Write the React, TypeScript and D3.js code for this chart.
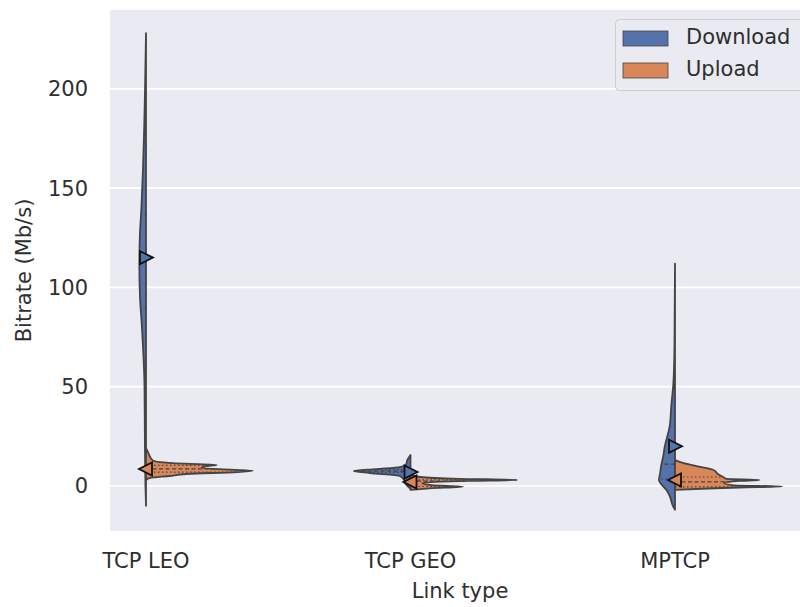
import React, { useEffect, useRef } from 'react';
import * as d3 from 'd3';

// link types on the x axis, hue split into two halves
const categories = ['TCP LEO', 'TCP GEO', 'MPTCP'];
const seriesNames = ['Download', 'Upload'];
const yTicks = [0, 50, 100, 150, 200];

// density profiles: [bitrate, relative density (widest = 100)]
const leoDownload = [[-10, 0], [0, 0.5], [20, 1], [50, 1.4], [80, 3.8], [95, 5.6], [110, 6.2], [125, 5.8], [140, 4.3], [160, 2.8], [180, 1.7], [200, 0.9], [228, 0]];
const leoUpload = [[3, 0], [4, 4], [5, 22], [6, 38], [7, 85], [7.6, 100], [8.2, 80], [9, 52], [10, 56], [10.6, 66], [11.2, 36], [12, 13], [13, 6], [15.6, 3], [18, 1], [19, 0]];
const geoDownload = [[-1.5, 0], [0, 3], [1.5, 5], [3, 6], [5, 10], [6.5, 38], [7.5, 53], [8.5, 32], [9.5, 10], [11, 4], [13, 3], [15.6, 0]];
const geoUpload = [[-2, 0], [-1.2, 18], [-0.4, 49], [0.4, 20], [1.5, 11], [2.5, 55], [3, 100], [3.6, 45], [4.5, 9], [5.5, 0]];
const mptcpDownload = [[-12, 0], [-10, 2], [-5, 5], [-2, 8], [1, 13], [3, 15], [6, 14], [10, 13], [15, 11], [20, 9.5], [30, 5], [40, 3.5], [52, 1.5], [70, 0.5], [112, 0]];
const mptcpUpload = [[-2, 0], [-0.8, 60], [-0.3, 100], [0.3, 55], [1.5, 46], [2.5, 60], [3, 79], [3.6, 48], [4.5, 45], [6, 40], [8, 36], [10, 20], [11.5, 8], [13, 0]];

// quartiles [q1, median, q3] and means per half
const quartiles = [
  [[90, 115, 137], [7.0, 8.6, 10.4]],
  [[6.8, 7.5, 8.2], [-0.3, 2.4, 3.0]],
  [[3.5, 11, 30], [-0.5, 2.0, 4.5]],
];
const means = [
  [115, 8.5],
  [7, 2],
  [20, 3],
];
const profiles = [
  [leoDownload, leoUpload],
  [geoDownload, geoUpload],
  [mptcpDownload, mptcpUpload],
];

const colors = ['#5572aa', '#d98758'];
const edge = '#444444';
const font = '"DejaVu Sans", sans-serif';
const textColor = '#2e2e2e';

export default function App() {
  const svgRef = useRef<SVGSVGElement>(null);

  useEffect(() => {
    document.body.style.margin = '0';
    const width = 800;
    const height = 607;
    const plot = { left: 110, top: 10, right: 810, bottom: 531 };

    const svg = d3.select(svgRef.current).attr('width', width).attr('height', height);
    svg.selectAll('*').remove();

    const x = d3.scalePoint<string>().domain(categories).range([146, 675]);
    const y = d3.scaleLinear().domain([-22.7, 239.7]).range([plot.bottom, plot.top]);
    const w = d3.scaleLinear().domain([0, 100]).range([0, 107]);

    svg.append('rect')
      .attr('x', plot.left).attr('y', plot.top)
      .attr('width', plot.right - plot.left).attr('height', plot.bottom - plot.top)
      .attr('fill', '#eaeaf2');

    svg.append('g').selectAll('line').data(yTicks).enter().append('line')
      .attr('x1', plot.left).attr('x2', plot.right)
      .attr('y1', d => y(d)).attr('y2', d => y(d))
      .attr('stroke', '#ffffff').attr('stroke-width', 1.6);

    svg.append('g').selectAll('text').data(yTicks).enter().append('text')
      .attr('x', 88).attr('y', d => y(d)).attr('dy', '0.36em')
      .attr('text-anchor', 'end')
      .style('font-family', font).style('font-size', '21px').attr('fill', textColor)
      .text(d => d);

    svg.append('g').selectAll('text').data(categories).enter().append('text')
      .attr('x', d => x(d)!).attr('y', 568)
      .attr('text-anchor', 'middle')
      .style('font-family', font).style('font-size', '21px').attr('fill', textColor)
      .text(d => d);

    svg.append('text')
      .attr('x', 460).attr('y', 598).attr('text-anchor', 'middle')
      .style('font-family', font).style('font-size', '21px').attr('fill', textColor)
      .text('Link type');

    svg.append('text')
      .attr('transform', `translate(31,${(plot.top + plot.bottom) / 2}) rotate(-90)`)
      .attr('text-anchor', 'middle')
      .style('font-family', font).style('font-size', '21px').attr('fill', textColor)
      .text('Bitrate (Mb/s)');

    const densityAt = (prof: number[][], v: number) => {
      for (let i = 1; i < prof.length; i++) {
        if (v <= prof[i][0]) {
          const [v0, d0] = prof[i - 1];
          const [v1, d1] = prof[i];
          return d0 + ((v - v0) / (v1 - v0)) * (d1 - d0);
        }
      }
      return 0;
    };

    const clip = svg.append('defs').append('clipPath').attr('id', 'plotClip');
    clip.append('rect')
      .attr('x', plot.left).attr('y', plot.top)
      .attr('width', plot.right - plot.left).attr('height', plot.bottom - plot.top);

    const g = svg.append('g').attr('clip-path', 'url(#plotClip)');

    categories.forEach((cat, ci) => {
      const cx = x(cat)!;
      profiles[ci].forEach((prof, si) => {
        const sign = si === 0 ? -1 : 1;
        const area = d3.area<number[]>()
          .y(d => y(d[0]))
          .x0(cx)
          .x1(d => cx + sign * w(d[1]))
          .curve(d3.curveMonotoneY);
        g.append('path')
          .attr('d', area(prof)!)
          .attr('fill', colors[si])
          .attr('stroke', edge).attr('stroke-width', 1.8)
          .attr('stroke-linejoin', 'round');

        quartiles[ci][si].forEach((q, qi) => {
          const len = w(densityAt(prof, q));
          g.append('line')
            .attr('x1', cx).attr('x2', cx + sign * len)
            .attr('y1', y(q)).attr('y2', y(q))
            .attr('stroke', edge).attr('stroke-width', 1.2)
            .attr('stroke-dasharray', qi === 1 ? '4,2.5' : '1.5,2.5');
        });
      });

      means[ci].forEach((m, si) => {
        const my = y(m);
        const pts = si === 0
          ? [[cx - 6, my - 6.5], [cx - 6, my + 6.5], [cx + 7, my]]
          : [[cx + 6, my - 6.5], [cx + 6, my + 6.5], [cx - 7, my]];
        g.append('path')
          .attr('d', d3.line()(pts as [number, number][])! + 'Z')
          .attr('fill', colors[si])
          .attr('stroke', '#111111').attr('stroke-width', 1.8)
          .attr('stroke-linejoin', 'miter');
      });
    });

    // legend
    const legend = svg.append('g');
    legend.append('rect')
      .attr('x', 615.5).attr('y', 19.5).attr('width', 190).attr('height', 71).attr('rx', 4)
      .attr('fill', '#eaeaf2').attr('fill-opacity', 0.85)
      .attr('stroke', '#cccccc').attr('stroke-width', 1);
    seriesNames.forEach((name, i) => {
      const ly = 31 + i * 32;
      legend.append('rect')
        .attr('x', 623).attr('y', ly).attr('width', 45).attr('height', 15)
        .attr('fill', colors[i]).attr('stroke', edge).attr('stroke-width', 0.8);
      legend.append('text')
        .attr('x', 686).attr('y', ly + 13)
        .style('font-family', font).style('font-size', '21px').attr('fill', textColor)
        .text(name);
    });
  }, []);

  return <svg ref={svgRef} style={{ display: 'block' }} />;
}
